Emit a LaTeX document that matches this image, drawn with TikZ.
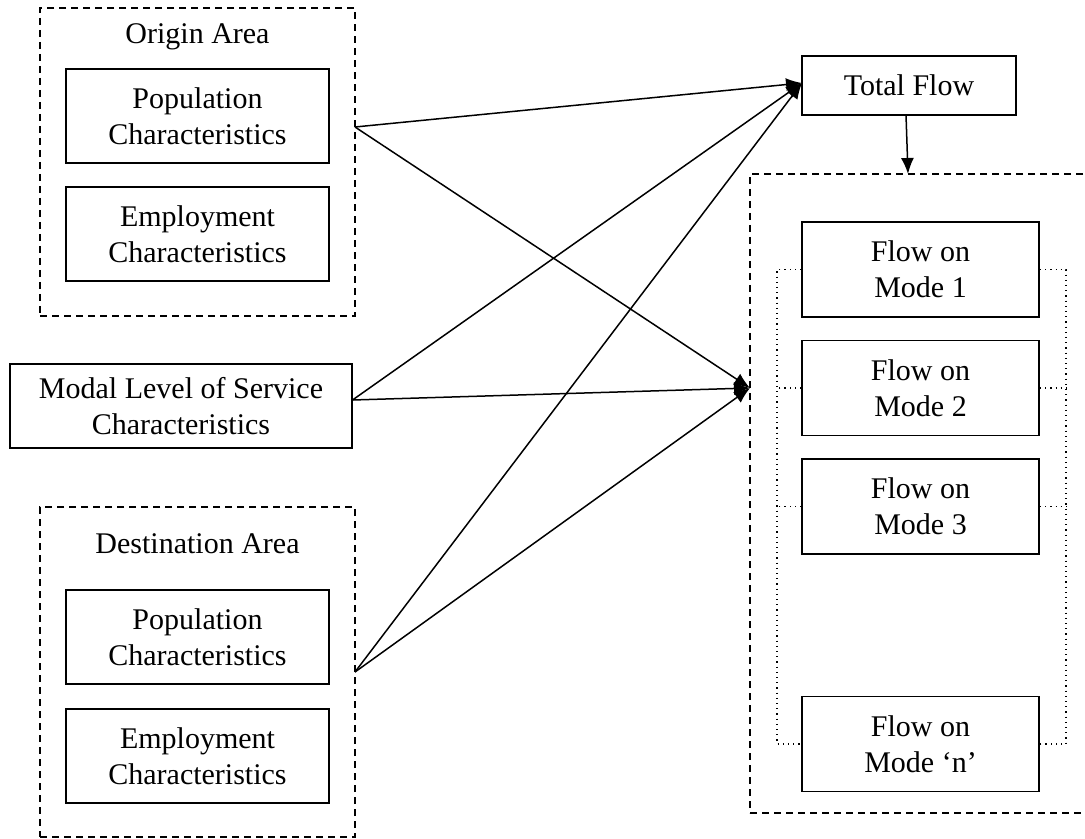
\documentclass[tikz,border=0pt]{standalone}
\usepackage{fontspec}
\setmainfont{Liberation Serif}
\usetikzlibrary{arrows.meta}
\newcommand{\fs}{\fontsize{15}{18}\selectfont}
\tikzset{
  box/.style={draw, line width=0.9pt, align=center, inner sep=0pt, font=\fs},
  area/.style={draw, line width=0.8pt, dash pattern=on 3.5pt off 2.5pt, inner sep=0pt},
  lbl/.style={font=\fs, inner sep=0pt},
  conn/.style={line width=0.75pt, -{Latex[length=8pt,width=6.5pt]}},
  brk/.style={line width=0.6pt, dotted}
}
\begin{document}
\begin{tikzpicture}[x=0.5pt,y=-0.5pt]
\clip (0,0) rectangle (1085,839);
\fill[white] (0,0) rectangle (1085,839);
% containers
\node[area, minimum width=157.5pt, minimum height=154pt] (orig) at (197.5,162) {};
\node[area, minimum width=157.5pt, minimum height=165pt] (dest) at (197.5,672) {};
\node[area, minimum width=172.5pt, minimum height=319.5pt] (flows) at (922.5,493.5) {};
\node[lbl] (origlbl) at (197.5,37) {Origin Area};
\node[lbl] (destlbl) at (197.5,544) {Destination Area};
% left boxes
\node[box, minimum width=131.5pt, minimum height=47pt] (opop) at (197.5,116) {Population\\Characteristics};
\node[box, minimum width=131.5pt, minimum height=47pt] (oemp) at (197.5,234) {Employment\\Characteristics};
\node[box, minimum width=171pt, minimum height=42pt] (modal) at (181,406) {Modal Level of Service\\Characteristics};
\node[box, minimum width=131.5pt, minimum height=47pt] (dpop) at (197.5,637) {Population\\Characteristics};
\node[box, minimum width=131.5pt, minimum height=47pt] (demp) at (197.5,756) {Employment\\Characteristics};
% right boxes
\node[box, minimum width=107pt, minimum height=29.5pt] (total) at (909,85.5) {Total Flow};
\node[box, minimum width=118.5pt, minimum height=47.5pt] (m1) at (920.5,269.5) {Flow on\\Mode 1};
\node[box, minimum width=118.5pt, minimum height=47.5pt] (m2) at (920.5,388) {Flow on\\Mode 2};
\node[box, minimum width=118.5pt, minimum height=47.5pt] (m3) at (920.5,506.5) {Flow on\\Mode 3};
\node[box, minimum width=118.5pt, minimum height=47.5pt] (mn) at (920.5,744) {Flow on\\Mode ‘n’};
% dotted bracket
\coordinate (bl) at (777,0);
\coordinate (br) at (1066,0);
\draw[brk] (m1.west) -- (bl |- m1.west) -- (bl |- mn.west) -- (mn.west);
\draw[brk] (m1.east) -- (br |- m1.east) -- (br |- mn.east) -- (mn.east);
\draw[brk] (m2.west) -- (bl |- m2.west);
\draw[brk] (m3.west) -- (bl |- m3.west);
\draw[brk] (m2.east) -- (br |- m2.east);
\draw[brk] (m3.east) -- (br |- m3.east);
% connector end points
\coordinate (oS) at (355,127);
\coordinate (mS) at (352.5,400);
\coordinate (dS) at (355,672);
\coordinate (tIn) at (802,83);
\coordinate (rIn) at (750,388);
\coordinate (tOut) at (906,115);
\coordinate (fIn) at (908,174);
\draw[conn] (oS) -- (tIn);
\draw[conn] (oS) -- (rIn);
\draw[conn] (mS) -- (tIn);
\draw[conn] (mS) -- (rIn);
\draw[conn] (dS) -- (tIn);
\draw[conn] (dS) -- (rIn);
\draw[conn] (tOut) -- (fIn);
\end{tikzpicture}
\end{document}
